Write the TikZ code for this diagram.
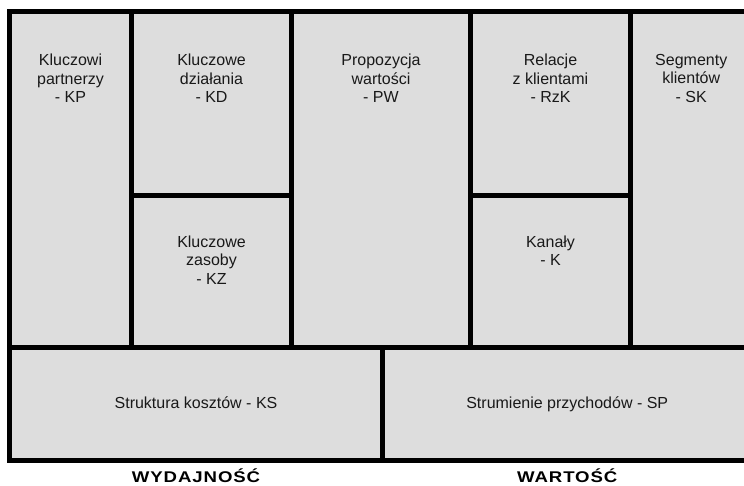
\documentclass[tikz,border=0pt]{standalone}
\usepackage{fontspec}
\setmainfont{Liberation Sans}
\definecolor{cellgray}{HTML}{DDDDDD}

\begin{document}
\begin{tikzpicture}[x=1pt, y=-1pt,
  every node/.style={font=\fontsize{16}{18.5}\selectfont, text=black!90,
                     align=center, inner sep=0pt},
  cell/.style={fill=cellgray, draw=black, line width=5pt},
  sumlabel/.style={font=\fontsize{15.5}{18}\selectfont\bfseries\addfontfeature{FakeStretch=1.2,LetterSpace=6},
                   text=black, anchor=base}]

\useasboundingbox (0,0) rectangle (744,486);
\clip (0,0) rectangle (744,486);

\def\xL{9.5}    %% left edge
\def\xA{131.5}  %% KP | KD
\def\xB{291.5}  %% KD | PW
\def\xC{470.5}  %% PW | RzK
\def\xD{630.5}  %% RzK | SK
\def\xR{752}    %% right edge (cut off)
\def\xS{382.5}  %% KS | SP
\def\yT{12}     %% top edge
\def\yS{195.5}  %% KD/KZ and RzK/K split
\def\yM{347}    %% upper | lower row
\def\yB{460}    %% bottom edge

%% ── Upper row ────────────────────────────────────────────────────────────────
\draw[cell] (\xL,\yT) rectangle (\xA,\yM);
\draw[cell] (\xA,\yT) rectangle (\xB,\yS);
\draw[cell] (\xA,\yS) rectangle (\xB,\yM);
\draw[cell] (\xB,\yT) rectangle (\xC,\yM);
\draw[cell] (\xC,\yT) rectangle (\xD,\yS);
\draw[cell] (\xC,\yS) rectangle (\xD,\yM);
\draw[cell] (\xD,\yT) rectangle (\xR,\yM);

\node[anchor=north] (kp)  at ({(\xL+\xA)/2}, 54) {Kluczowi\\partnerzy\\- KP};
\node[anchor=north] (kd)  at ({(\xA+\xB)/2}, 54) {Kluczowe\\działania\\- KD};
\node[anchor=north] (pw)  at ({(\xB+\xC)/2}, 54) {Propozycja\\wartości\\- PW};
\node[anchor=north] (rzk) at ({(\xC+\xD)/2}, 54) {Relacje\\z klientami\\- RzK};
\node[anchor=north] (sk)  at ({(\xD+\xR)/2}, 54) {Segmenty\\klientów\\- SK};

\node[anchor=north] (kz)  at ({(\xA+\xB)/2}, 235.5) {Kluczowe\\zasoby\\- KZ};
\node[anchor=north] (kan) at ({(\xC+\xD)/2}, 235.5) {Kanały\\- K};

%% ── Lower row ────────────────────────────────────────────────────────────────
\draw[cell] (\xL,\yM) rectangle (\xS,\yB);
\draw[cell] (\xS,\yM) rectangle (\xR,\yB);

\node[anchor=base] (ks) at ({(\xL+\xS)/2}, 408) {Struktura kosztów - KS};
\node[anchor=base] (sp) at ({(\xS+\xR)/2}, 408) {Strumienie przychodów - SP};

%% ── Summary labels ───────────────────────────────────────────────────────────
\node[sumlabel] (wyd)  at ({(\xL+\xS)/2}, 482) {WYDAJNOŚĆ};
\node[sumlabel] (wart) at ({(\xS+\xR)/2}, 482) {WARTOŚĆ};

\end{tikzpicture}
\end{document}
